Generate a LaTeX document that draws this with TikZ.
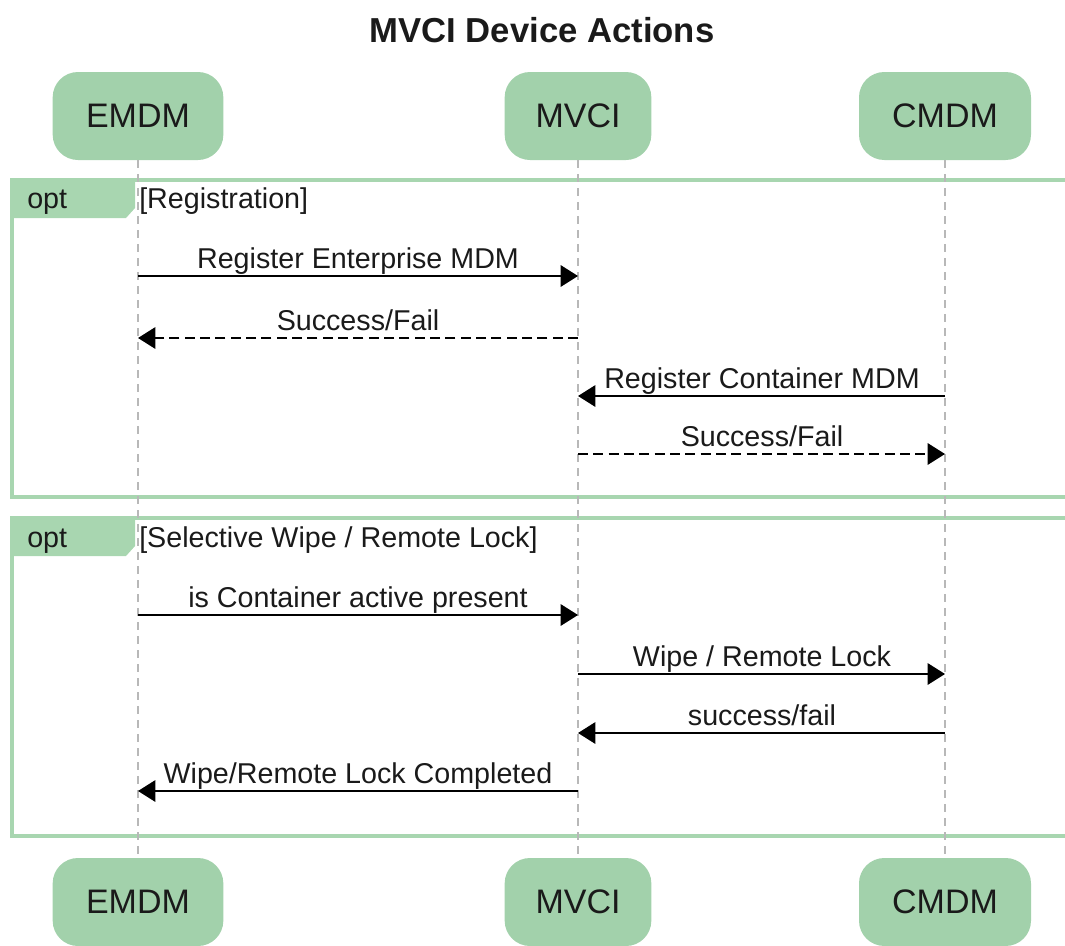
\documentclass[tikz,border=0pt]{standalone}
\usepackage{fontspec}
\setmainfont{Liberation Sans}
\usetikzlibrary{arrows.meta}
\definecolor{actorfill}{HTML}{A2D1AB}
\definecolor{framegreen}{HTML}{A8D6B0}
\definecolor{lifegray}{HTML}{B8B8B8}
\definecolor{inkblack}{HTML}{1A1A1A}
\tikzset{
  actor/.style={fill=actorfill, rounded corners=19pt, minimum height=66pt,
    inner xsep=0pt, font=\fontsize{25.5}{30}\selectfont, text=inkblack},
  lifeline/.style={draw=lifegray, line width=1.1pt, dash pattern=on 6pt off 4.5pt},
  frameline/.style={draw=framegreen, line width=2.8pt},
  msg/.style={draw=black, line width=1.6pt, -{Triangle[length=13pt,width=16pt]}},
  reply/.style={msg, dash pattern=on 7.5pt off 4pt},
  msglabel/.style={font=\fontsize{21.5}{25}\selectfont, text=inkblack, anchor=base, inner sep=0pt},
  guard/.style={font=\fontsize{21.5}{25}\selectfont, text=inkblack, anchor=base west, inner sep=0pt},
}
\begin{document}
\begin{tikzpicture}[x=0.75pt, y=-0.75pt]
\useasboundingbox (0,0) rectangle (1065,946);
\begin{scope}
\clip (0,0) rectangle (1065,946);

% title
\node[font=\fontsize{26}{30}\selectfont\bfseries, text=inkblack] (title) at (542,30) {MVCI Device Actions};

% participants, top and bottom
\node[actor, minimum width=128pt] (emdmT) at (138,116) {EMDM};
\node[actor, minimum width=110pt] (mvciT) at (578,116) {MVCI};
\node[actor, minimum width=129pt] (cmdmT) at (945,116) {CMDM};
\node[actor, minimum width=128pt] (emdmB) at (138,902) {EMDM};
\node[actor, minimum width=110pt] (mvciB) at (578,902) {MVCI};
\node[actor, minimum width=129pt] (cmdmB) at (945,902) {CMDM};

% opt frames
\draw[frameline] (12,180) rectangle (1080,497);
\fill[framegreen] (12,180) -- (135,180) -- (135,208) -- (126,218) -- (12,218) -- cycle;
\node[guard] (opt1) at (27,208) {opt};
\node[guard] (g1) at (139,208) {[Registration]};

\draw[frameline] (12,518) rectangle (1080,836);
\fill[framegreen] (12,518) -- (135,518) -- (135,546) -- (126,556) -- (12,556) -- cycle;
\node[guard] (opt2) at (27,547) {opt};
\node[guard] (g2) at (139,547) {[Selective Wipe / Remote Lock]};

% lifelines
\draw[lifeline] (emdmT.south) -- (emdmB.north);
\draw[lifeline] (mvciT.south) -- (mvciB.north);
\draw[lifeline] (cmdmT.south) -- (cmdmB.north);

% message anchor points on the lifelines
\foreach \n/\y in {1/276,2/338,3/396,4/454,5/615,6/674,7/733,8/791}{
  \coordinate (e\n) at (138,\y);
  \coordinate (m\n) at (578,\y);
  \coordinate (c\n) at (945,\y);
}

% messages
\draw[msg] (e1) -- (m1);
\node[msglabel] (l1) at (358,268) {Register Enterprise MDM};
\draw[reply] (m2) -- (e2);
\node[msglabel] (l2) at (358,330) {Success/Fail};
\draw[msg] (c3) -- (m3);
\node[msglabel] (l3) at (762,388) {Register Container MDM};
\draw[reply] (m4) -- (c4);
\node[msglabel] (l4) at (762,446) {Success/Fail};

\draw[msg] (e5) -- (m5);
\node[msglabel] (l5) at (358,607) {is Container active present};
\draw[msg] (m6) -- (c6);
\node[msglabel] (l6) at (762,666) {Wipe / Remote Lock};
\draw[msg] (c7) -- (m7);
\node[msglabel] (l7) at (762,725) {success/fail};
\draw[msg] (m8) -- (e8);
\node[msglabel] (l8) at (358,783) {Wipe/Remote Lock Completed};
\end{scope}
\end{tikzpicture}
\end{document}
